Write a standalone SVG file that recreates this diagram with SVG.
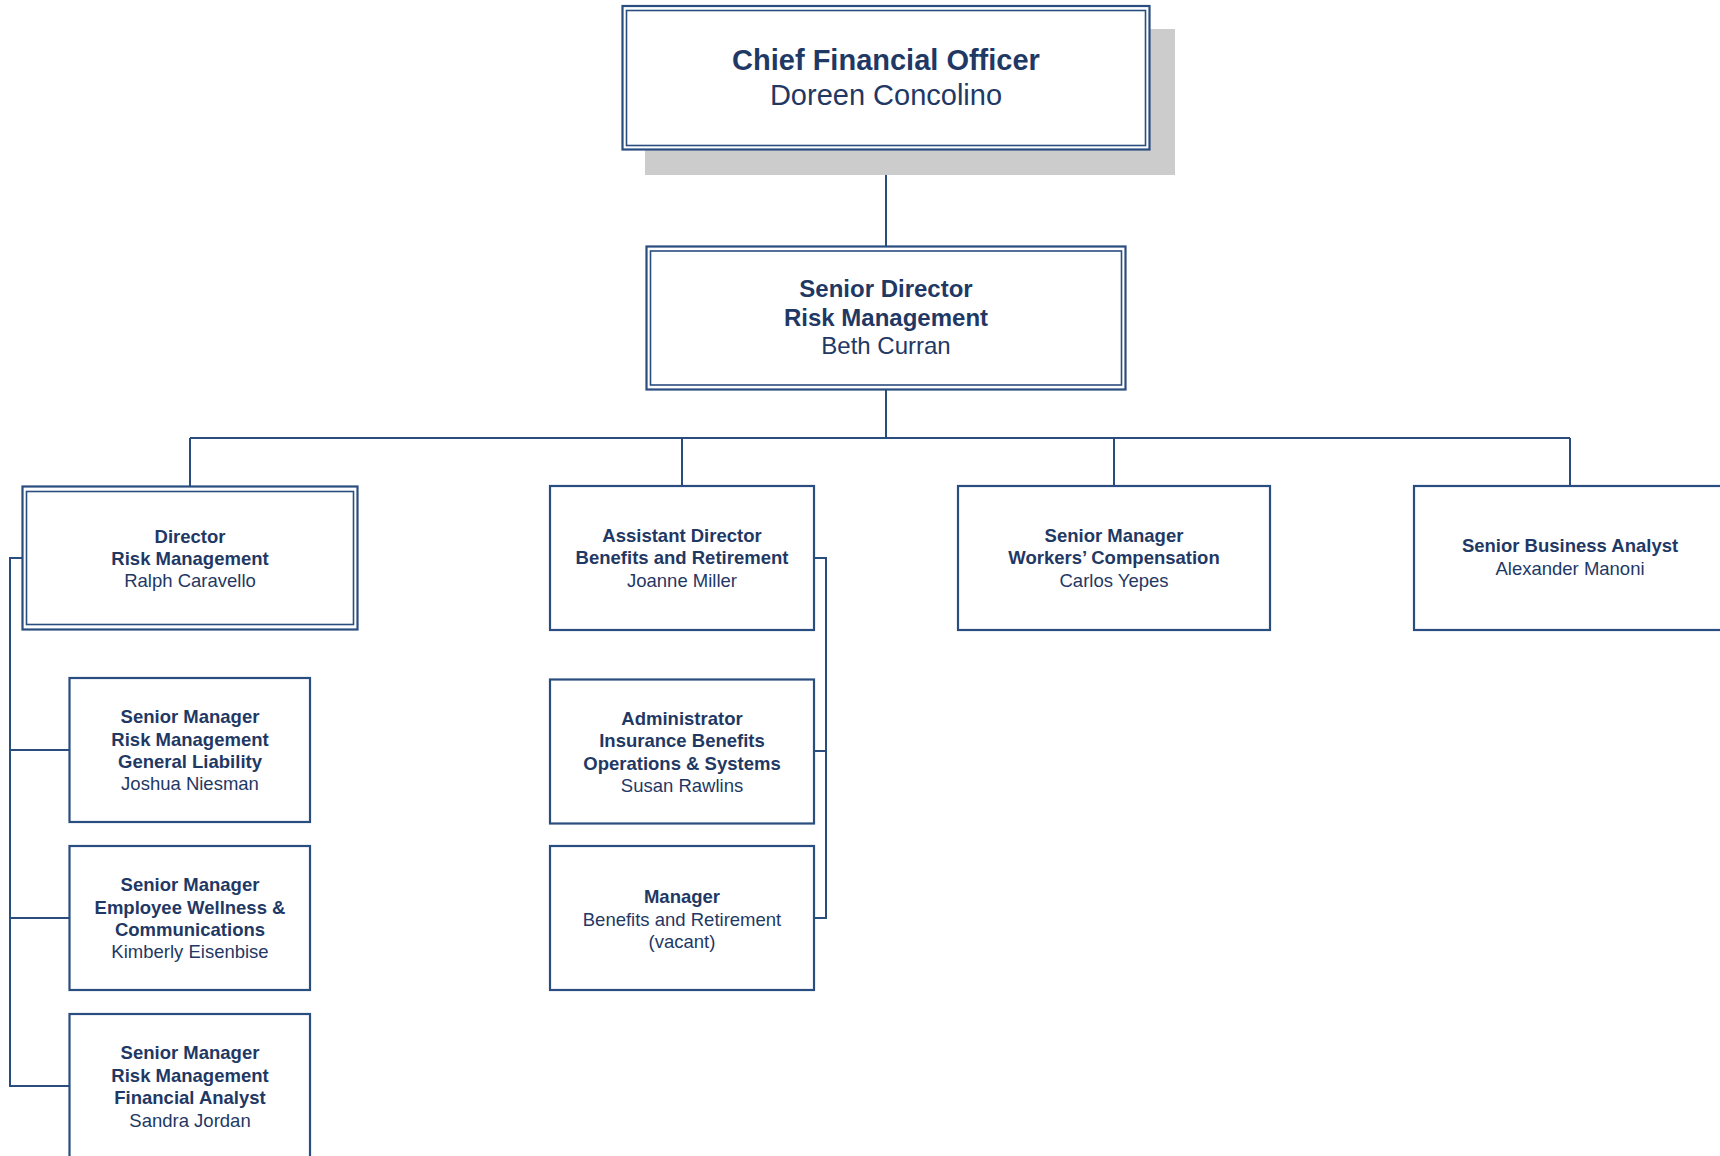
<svg xmlns="http://www.w3.org/2000/svg" width="1720" height="1156" viewBox="0 0 1720 1156">
<style>
.bx{fill:#ffffff;stroke:#2A4D80;stroke-width:2.2}
.in{fill:none;stroke:#2A4D80;stroke-width:1.6}
.ln{fill:none;stroke:#2A4D80;stroke-width:2}
text{font-family:"Liberation Sans",Arial,sans-serif;fill:#1F3864;text-anchor:middle}
.b{font-weight:bold}
.s{font-size:18.5px}
.m{font-size:24px}
.l{font-size:29px}
</style>
<rect width="1720" height="1156" fill="#ffffff"/>
<g id="connectors">
<path class="ln" d="M886,150 V246 M886,390 V438 M190,438 H1570 M190,438 V486 M682,438 V486 M1114,438 V486 M1570,438 V486"/>
<path class="ln" d="M22,558 H10 V1086 H69.5 M10,750 H69.5 M10,918 H69.5"/>
<path class="ln" d="M814,558 H826 V918 H814 M826,751 H814"/>
</g>
<g id="cfo">
<rect x="645" y="29" width="530" height="146" fill="#CCCCCC"/>
<rect class="bx" x="622.5" y="6" width="527" height="143.5"/>
<rect class="in" x="626.5" y="10.5" width="519" height="135"/>
<text class="l b" x="886" y="69.5">Chief Financial Officer</text>
<text class="l" x="886" y="104.5">Doreen Concolino</text>
</g>
<g id="senior-director">
<rect class="bx" x="646.5" y="246.5" width="479" height="143"/>
<rect class="in" x="650.5" y="251" width="471" height="134"/>
<text class="m b" x="886" y="297">Senior Director</text>
<text class="m b" x="886" y="325.5">Risk Management</text>
<text class="m" x="886" y="354">Beth Curran</text>
</g>
<g id="director">
<rect class="bx" x="22.5" y="486.5" width="335" height="143"/>
<rect class="in" x="26.5" y="491.5" width="327" height="133"/>
<text class="s b" x="190" y="542.5">Director</text>
<text class="s b" x="190" y="564.8">Risk Management</text>
<text class="s" x="190" y="587.1">Ralph Caravello</text>
</g>
<g id="sm-general-liability">
<rect class="bx" x="69.5" y="678" width="240.5" height="144"/>
<text class="s b" x="190" y="723.3">Senior Manager</text>
<text class="s b" x="190" y="745.7">Risk Management</text>
<text class="s b" x="190" y="768">General Liability</text>
<text class="s" x="190" y="790.3">Joshua Niesman</text>
</g>
<g id="sm-wellness">
<rect class="bx" x="69.5" y="846" width="240.5" height="144"/>
<text class="s b" x="190" y="891">Senior Manager</text>
<text class="s b" x="190" y="913.5">Employee Wellness &amp;</text>
<text class="s b" x="190" y="936">Communications</text>
<text class="s" x="190" y="958.3">Kimberly Eisenbise</text>
</g>
<g id="sm-financial-analyst">
<rect class="bx" x="69.5" y="1014" width="240.5" height="160"/>
<text class="s b" x="190" y="1059.3">Senior Manager</text>
<text class="s b" x="190" y="1081.7">Risk Management</text>
<text class="s b" x="190" y="1104">Financial Analyst</text>
<text class="s" x="190" y="1126.5">Sandra Jordan</text>
</g>
<g id="assistant-director">
<rect class="bx" x="550" y="486" width="264" height="144"/>
<text class="s b" x="682" y="541.7">Assistant Director</text>
<text class="s b" x="682" y="564.2">Benefits and Retirement</text>
<text class="s" x="682" y="586.7">Joanne Miller</text>
</g>
<g id="administrator">
<rect class="bx" x="550" y="679.5" width="264" height="144"/>
<text class="s b" x="682" y="725">Administrator</text>
<text class="s b" x="682" y="747.3">Insurance Benefits</text>
<text class="s b" x="682" y="769.7">Operations &amp; Systems</text>
<text class="s" x="682" y="792">Susan Rawlins</text>
</g>
<g id="manager">
<rect class="bx" x="550" y="846" width="264" height="144"/>
<text class="s b" x="682" y="903.3">Manager</text>
<text class="s" x="682" y="925.5">Benefits and Retirement</text>
<text class="s" x="682" y="947.7">(vacant)</text>
</g>
<g id="sm-workers-comp">
<rect class="bx" x="958" y="486" width="312" height="144"/>
<text class="s b" x="1114" y="541.7">Senior Manager</text>
<text class="s b" x="1114" y="564">Workers’ Compensation</text>
<text class="s" x="1114" y="586.5">Carlos Yepes</text>
</g>
<g id="senior-business-analyst">
<rect class="bx" x="1414" y="486" width="330" height="144"/>
<text class="s b" x="1570" y="552.3">Senior Business Analyst</text>
<text class="s" x="1570" y="575">Alexander Manoni</text>
</g>
</svg>
